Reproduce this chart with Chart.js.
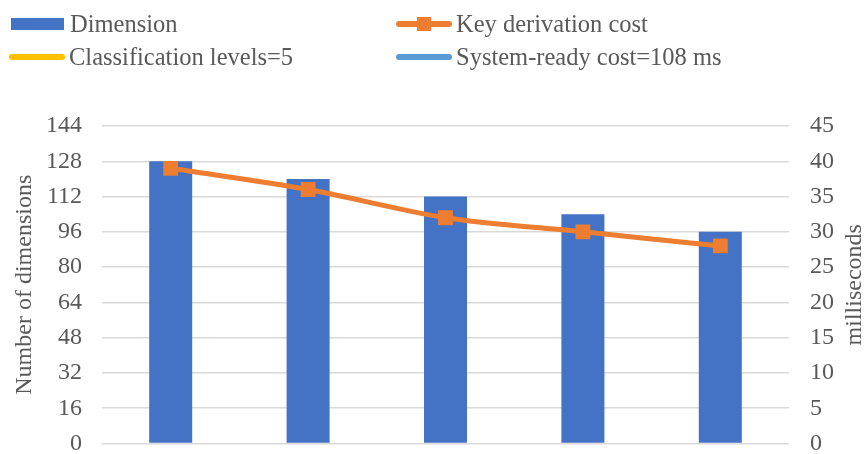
<!DOCTYPE html>
<html>
<head>
<meta charset="utf-8">
<script src="https://cdn.jsdelivr.net/npm/chart.js@4/dist/chart.umd.min.js"></script>
<style>
  html, body { margin: 0; padding: 0; background: #fff; }
  #wrap { position: relative; width: 868px; height: 454px; }
  #c { position: absolute; left: 0; top: 0; }
  .leg { position: absolute; font-family: "Liberation Serif", "Times New Roman", serif; font-size: 24.5px; color: #595959; white-space: nowrap; line-height: 24px; }
  .sw { position: absolute; }
</style>
</head>
<body>
<div id="wrap">
  <canvas id="c" width="868" height="454"></canvas>
</div>
<script>
const categories = ['1', '2', '3', '4', '5'];
const dimensionValues = [128, 120, 112, 104, 96];
const keyDerivationCost = [39, 36, 32, 30, 28];
const leftTicks = { min: 0, max: 144, step: 16 };
const rightTicks = { min: 0, max: 45, step: 5 };
const seriesNames = ['Dimension', 'Key derivation cost', 'Classification levels=5', 'System-ready cost=108 ms'];
const axisTitles = { left: 'Number of dimensions', right: 'milliseconds' };

const BLUE = '#4472C4', ORANGE = '#ED7D31', YELLOW = '#FFC000', LBLUE = '#5B9BD5';
const TEXT = '#595959', GRID = '#D9D9D9';
const FONT = '"Liberation Serif", "Times New Roman", serif';

// HTML legend
const wrap = document.getElementById('wrap');
function addLegend(x, y, type, color, label) {
  if (type === 'rect') {
    const s = document.createElement('div');
    s.className = 'sw';
    Object.assign(s.style, { left: x + 'px', top: (y - 6) + 'px', width: '53px', height: '12px', background: color });
    wrap.appendChild(s);
  } else {
    const s = document.createElement('div');
    s.className = 'sw';
    Object.assign(s.style, { left: x + 'px', top: (y - 3) + 'px', width: '56px', height: '6px', background: color, borderRadius: '3px' });
    wrap.appendChild(s);
    if (type === 'marker') {
      const m = document.createElement('div');
      m.className = 'sw';
      Object.assign(m.style, { left: (x + 21) + 'px', top: (y - 7) + 'px', width: '14px', height: '14px', background: color });
      wrap.appendChild(m);
    }
  }
  const t = document.createElement('div');
  t.className = 'leg';
  t.textContent = label;
  t.style.left = (x + (type === 'rect' ? 59 : 60)) + 'px';
  t.style.top = (y - 12) + 'px';
  wrap.appendChild(t);
}
addLegend(11, 24, 'rect', BLUE, seriesNames[0]);
addLegend(396, 24, 'marker', ORANGE, seriesNames[1]);
addLegend(9, 57, 'line', YELLOW, seriesNames[2]);
addLegend(396, 57, 'line', LBLUE, seriesNames[3]);

const rightTitlePlugin = {
  id: 'rightTitle',
  afterDraw(chart) {
    const ctx = chart.ctx;
    const area = chart.chartArea;
    ctx.save();
    ctx.translate(855, (area.top + area.bottom) / 2);
    ctx.rotate(-Math.PI / 2);
    ctx.font = '24px ' + FONT;
    ctx.fillStyle = TEXT;
    ctx.textAlign = 'center';
    ctx.textBaseline = 'middle';
    ctx.fillText(axisTitles.right, 0, 0);
    ctx.restore();
  }
};

new Chart(document.getElementById('c'), {
  data: {
    labels: categories,
    datasets: [
      {
        type: 'line',
        label: seriesNames[1],
        data: keyDerivationCost,
        yAxisID: 'y1',
        borderColor: ORANGE,
        backgroundColor: ORANGE,
        borderWidth: 5,
        tension: 0.3,
        pointStyle: 'rect',
        pointRadius: 10.5,
        pointHoverRadius: 10.5,
        pointBackgroundColor: ORANGE,
        pointBorderWidth: 0,
        order: 0
      },
      {
        type: 'bar',
        label: seriesNames[0],
        data: dimensionValues,
        yAxisID: 'y',
        backgroundColor: BLUE,
        categoryPercentage: 1,
        barPercentage: 0.313,
        order: 1
      }
    ]
  },
  options: {
    responsive: false,
    animation: false,
    devicePixelRatio: 1,
    layout: { padding: { top: 126, bottom: 10, left: 0, right: 0 } },
    plugins: { legend: { display: false }, tooltip: { enabled: false } },
    scales: {
      x: { display: false },
      y: {
        position: 'left',
        min: leftTicks.min, max: leftTicks.max,
        ticks: { stepSize: leftTicks.step, color: TEXT, font: { family: FONT, size: 24 }, padding: 20 },
        grid: { color: GRID, lineWidth: 1.5, drawTicks: false },
        border: { display: false },
        title: { display: true, text: axisTitles.left, color: TEXT, font: { family: FONT, size: 24 }, padding: { top: 10, bottom: 0 } },
        afterFit(scale) { scale.width = 102; scale.paddingTop = 0; scale.paddingBottom = 0; }
      },
      y1: {
        position: 'right',
        min: rightTicks.min, max: rightTicks.max,
        ticks: { stepSize: rightTicks.step, color: TEXT, font: { family: FONT, size: 24 }, padding: 21 },
        grid: { drawOnChartArea: false, drawTicks: false },
        border: { display: false },
        afterFit(scale) { scale.width = 79; scale.paddingTop = 0; scale.paddingBottom = 0; }
      }
    }
  },
  plugins: [rightTitlePlugin]
});
</script>
</body>
</html>
